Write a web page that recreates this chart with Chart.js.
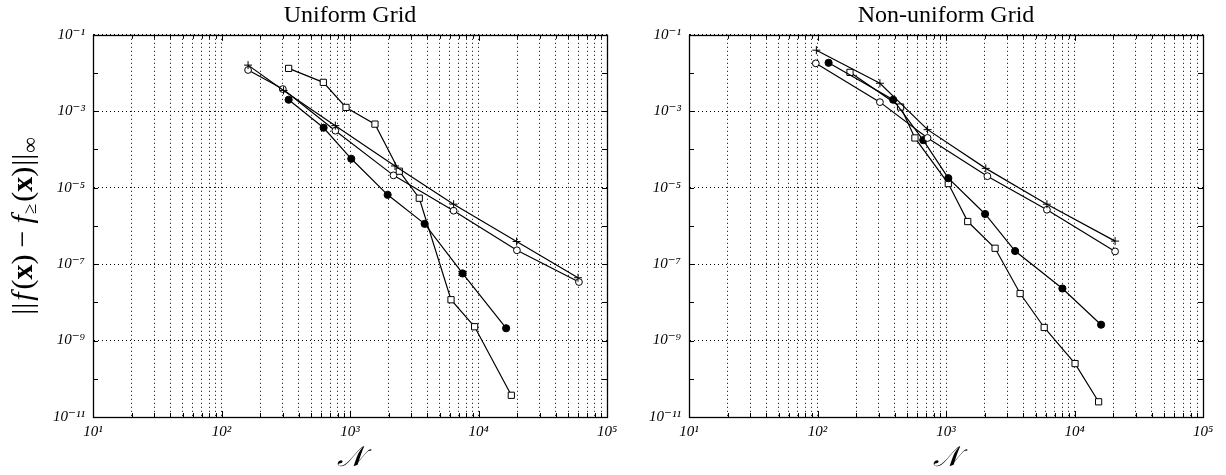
<!DOCTYPE html>
<html>
<head>
<meta charset="utf-8">
<script src="https://cdn.jsdelivr.net/npm/chart.js@4.4.1/dist/chart.umd.min.js"></script>
<style>
  html, body { margin: 0; padding: 0; background: #fff; }
  #wrap { position: relative; width: 1226px; height: 475px; }
  .panel { position: absolute; top: 0; height: 475px; }
</style>
</head>
<body>
<div id="wrap">
  <div class="panel" style="left:0;width:640px"><canvas id="uniform" width="640" height="475"></canvas></div>
  <div class="panel" style="left:613px;width:613px"><canvas id="nonuniform" width="613" height="475"></canvas></div>
</div>
<script>
// Uniform grid series (N, max error)
const uniformPlusN = [161, 304, 769, 2240, 6400, 19800, 59500];
const uniformPlusErr = [0.0161, 3.5e-3, 4.2e-4, 3.7e-5, 3.7e-6, 3.9e-7, 4.4e-8];
const uniformOpenN = [161, 300, 769, 2180, 6400, 19900, 60500];
const uniformOpenErr = [0.012, 3.8e-3, 3.1e-4, 2.1e-5, 2.5e-6, 2.3e-7, 3.4e-8];
const uniformDotN = [333, 623, 1023, 1963, 3810, 7520, 16400];
const uniformDotErr = [2.0e-3, 3.7e-4, 5.7e-5, 6.5e-6, 1.13e-6, 5.7e-8, 2.1e-9];
const uniformSquareN = [333, 620, 931, 1564, 2420, 3460, 6110, 9330, 18000];
const uniformSquareErr = [0.0132, 5.7e-3, 1.26e-3, 4.6e-4, 2.7e-5, 5.3e-6, 1.17e-8, 2.3e-9, 3.7e-11];

// Non-uniform grid series
const nonuniformPlusN = [98, 306, 719, 2040, 6100, 20700];
const nonuniformPlusErr = [0.0396, 5.4e-3, 3.3e-4, 3.2e-5, 3.7e-6, 4.0e-7];
const nonuniformOpenN = [97, 306, 719, 2100, 6100, 20700];
const nonuniformOpenErr = [0.0179, 1.73e-3, 2.0e-4, 2.0e-5, 2.65e-6, 2.15e-7];
const nonuniformDotN = [122, 388, 665, 1042, 2015, 3450, 8050, 16100];
const nonuniformDotErr = [0.0185, 2.0e-3, 1.75e-4, 1.77e-5, 2.05e-6, 2.2e-7, 2.3e-8, 2.6e-9];
const nonuniformSquareN = [179, 443, 573, 1042, 1476, 2410, 3775, 5810, 10100, 15400];
const nonuniformSquareErr = [0.0104, 1.29e-3, 2.0e-4, 1.28e-5, 1.3e-6, 2.6e-7, 1.7e-8, 2.2e-9, 2.5e-10, 2.5e-11];

// Axis ticks
const xDecades = [1e1, 1e2, 1e3, 1e4, 1e5];
const xMinorSteps = [2, 3, 4, 5, 6, 7, 8, 9];
const yDecades = [1e-11, 1e-10, 1e-9, 1e-8, 1e-7, 1e-6, 1e-5, 1e-4, 1e-3, 1e-2, 1e-1];
const yLabelExps = [-11, -9, -7, -5, -3, -1];

const serif = '"Liberation Serif", "Times New Roman", "DejaVu Serif", serif';
const sup = { '-': '⁻', '0': '⁰', '1': '¹', '2': '²', '3': '³', '4': '⁴', '5': '⁵', '6': '⁶', '7': '⁷', '8': '⁸', '9': '⁹' };

const xTickValues = [];
xDecades.forEach((d, i) => {
    xTickValues.push(d);
    if (i < xDecades.length - 1) xMinorSteps.forEach(s => xTickValues.push(d * s));
});

function expOf(v) { return Math.round(Math.log10(v)); }
function powLabel(v) { return '10' + String(expOf(v)).split('').map(c => sup[c]).join(''); }
function isDecade(v) { return Math.abs(Math.log10(v) - expOf(v)) < 1e-9; }

function points(ns, errs) {
    return ns.map((n, i) => ({ x: n, y: errs[i] }));
}

function series(ns, errs, style) {
    const base = {
        data: points(ns, errs),
        borderColor: '#000',
        borderWidth: 1.2,
        pointBorderColor: '#000',
        pointBorderWidth: 1,
        showLine: true,
        tension: 0,
        fill: false
    };
    if (style === 'plus') return Object.assign(base, { pointStyle: 'cross', pointRadius: 4, pointBackgroundColor: '#000' });
    if (style === 'open') return Object.assign(base, { pointStyle: 'circle', pointRadius: 3.4, pointBackgroundColor: '#fff' });
    if (style === 'dot') return Object.assign(base, { pointStyle: 'circle', pointRadius: 3.6, pointBackgroundColor: '#000' });
    return Object.assign(base, { pointStyle: 'rect', pointRadius: 4.4, pointBackgroundColor: '#fff' });
}

// Box round the plot with small inward ticks
const frameTicks = {
    id: 'frameTicks',
    afterDraw(chart) {
        const { ctx, chartArea: a, scales: { x, y } } = chart;
        ctx.save();
        ctx.strokeStyle = '#000';
        ctx.lineWidth = 1;
        ctx.beginPath();
        x.ticks.forEach(t => {
            const px = Math.round(x.getPixelForValue(t.value)) + 0.5;
            const len = isDecade(t.value) ? 6 : 4;
            ctx.moveTo(px, a.bottom); ctx.lineTo(px, a.bottom - len);
            ctx.moveTo(px, a.top); ctx.lineTo(px, a.top + len);
        });
        y.ticks.forEach(t => {
            const py = Math.round(y.getPixelForValue(t.value)) + 0.5;
            ctx.moveTo(a.left, py); ctx.lineTo(a.left + 5, py);
            ctx.moveTo(a.right, py); ctx.lineTo(a.right - 5, py);
        });
        ctx.stroke();
        ctx.lineWidth = 1.3;
        ctx.strokeRect(Math.round(a.left) + 0.5, Math.round(a.top) + 0.5, Math.round(a.right - a.left), Math.round(a.bottom - a.top));
        ctx.restore();
    }
};

// Rotated y label with mixed fonts: ||f(x) - f_>=(x)||_inf
const yLabel = {
    id: 'yLabel',
    afterDraw(chart) {
        const { ctx, chartArea: a } = chart;
        const fs = 30;
        // text, font, shift below baseline, extra gap after
        const segs = [
            ['||', `${fs}px ${serif}`, 0, 2],
            ['f', `italic ${fs}px ${serif}`, 0, 3],
            ['(', `${fs}px ${serif}`, 0, 0],
            ['x', `bold ${fs}px ${serif}`, 0, 0],
            [')', `${fs}px ${serif}`, 0, 7],
            ['−', `${fs}px ${serif}`, 0, 7],
            ['f', `italic ${fs}px ${serif}`, 0, 1],
            ['≥', `19px ${serif}`, 7, 2],
            ['(', `${fs}px ${serif}`, 0, 0],
            ['x', `bold ${fs}px ${serif}`, 0, 0],
            [')', `${fs}px ${serif}`, 0, 1],
            ['||', `${fs}px ${serif}`, 0, 1],
            ['∞', `22px ${serif}`, 7, 0]
        ];
        ctx.save();
        let total = 0;
        segs.forEach(s => { ctx.font = s[1]; total += ctx.measureText(s[0]).width + s[3]; });
        ctx.translate(24, (a.top + a.bottom) / 2);
        ctx.rotate(-Math.PI / 2);
        ctx.fillStyle = '#000';
        ctx.textBaseline = 'middle';
        let cx = -total / 2;
        segs.forEach(s => {
            ctx.font = s[1];
            ctx.fillText(s[0], cx, s[2]);
            cx += ctx.measureText(s[0]).width + s[3];
        });
        ctx.restore();
    }
};

function makeChart(id, title, sets, yWidth, padRight, extraPlugins) {
    return new Chart(document.getElementById(id), {
        type: 'line',
        data: { datasets: sets },
        plugins: [frameTicks].concat(extraPlugins),
        options: {
            responsive: false,
            animation: false,
            layout: { padding: { left: 0, right: padRight, top: 0, bottom: 0 } },
            plugins: {
                legend: { display: false },
                tooltip: { enabled: false },
                title: {
                    display: true,
                    text: title,
                    fullSize: false,
                    color: '#000',
                    font: { family: serif, size: 24, weight: 'normal' },
                    padding: { top: 1, bottom: 5 }
                }
            },
            scales: {
                x: {
                    type: 'logarithmic',
                    min: 10,
                    max: 1e5,
                    bounds: 'data',
                    afterBuildTicks: scale => { scale.ticks = xTickValues.map(v => ({ value: v })); },
                    afterFit: scale => {
                        scale.height = 58;
                        scale.paddingLeft = 0;
                        scale.paddingRight = 0;
                    },
                    ticks: {
                        autoSkip: false,
                        maxRotation: 0,
                        minRotation: 0,
                        padding: 6,
                        color: '#000',
                        font: { family: serif, size: 15, style: 'italic' },
                        callback: v => isDecade(v) ? powLabel(v) : ''
                    },
                    grid: { color: '#000', lineWidth: 1, drawTicks: false },
                    border: { display: true, color: '#000', width: 1, dash: [1, 3] },
                    title: {
                        display: true,
                        text: '𝒩',
                        color: '#000',
                        font: { family: serif, size: 28, style: 'italic' },
                        padding: { top: 0, bottom: 0 }
                    }
                },
                y: {
                    type: 'logarithmic',
                    min: 1e-11,
                    max: 1e-1,
                    bounds: 'data',
                    afterBuildTicks: scale => { scale.ticks = yDecades.map(v => ({ value: v })); },
                    afterFit: scale => {
                        scale.width = yWidth;
                        scale.paddingTop = 0;
                        scale.paddingBottom = 0;
                    },
                    ticks: {
                        autoSkip: false,
                        padding: 8,
                        color: '#000',
                        font: { family: serif, size: 15, style: 'italic' },
                        callback: v => yLabelExps.includes(expOf(v)) ? powLabel(v) : ''
                    },
                    grid: {
                        lineWidth: 1,
                        drawTicks: false,
                        color: c => (c.tick && yLabelExps.includes(expOf(c.tick.value))) ? '#000' : 'rgba(0,0,0,0)'
                    },
                    border: { display: true, color: '#000', width: 1, dash: [1, 3] }
                }
            }
        }
    });
}

makeChart('uniform', 'Uniform Grid', [
    series(uniformPlusN, uniformPlusErr, 'plus'),
    series(uniformOpenN, uniformOpenErr, 'open'),
    series(uniformDotN, uniformDotErr, 'dot'),
    series(uniformSquareN, uniformSquareErr, 'square')
], 93, 33, [yLabel]);

makeChart('nonuniform', 'Non-uniform Grid', [
    series(nonuniformPlusN, nonuniformPlusErr, 'plus'),
    series(nonuniformOpenN, nonuniformOpenErr, 'open'),
    series(nonuniformDotN, nonuniformDotErr, 'dot'),
    series(nonuniformSquareN, nonuniformSquareErr, 'square')
], 76, 23, []);
</script>
</body>
</html>
